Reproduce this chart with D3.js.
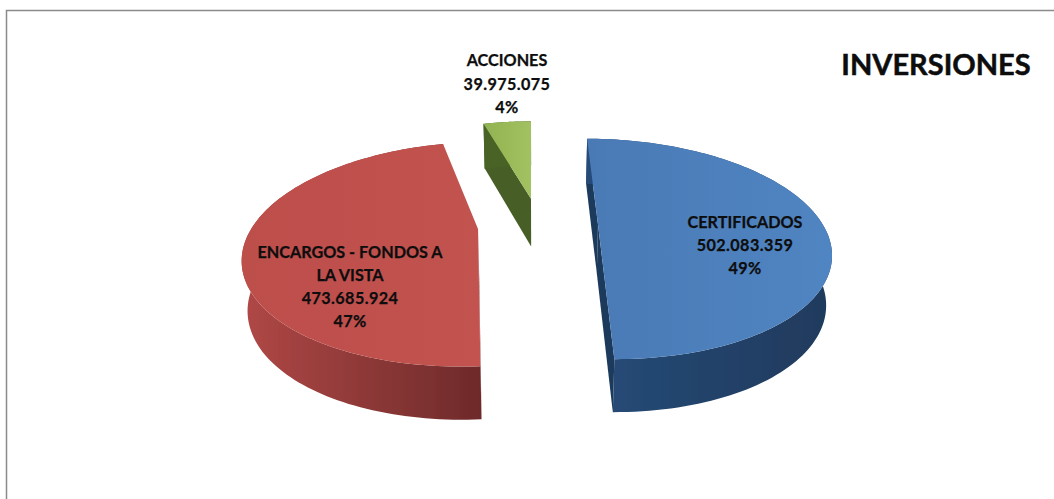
<!DOCTYPE html>
<html>
<head>
<meta charset="utf-8">
<title>INVERSIONES</title>
<script src="https://d3js.org/d3.v7.min.js"></script>
<style>
  html, body { margin: 0; background: #fff; }
  svg { display: block; }
  text { font-family: Lato, "Open Sans", sans-serif; font-weight: 700; fill: #0d0d0d; text-anchor: middle;
         stroke: #0d0d0d; stroke-width: 0.25px; }
  .lbl { font-size: 16.2px; }
  .num { letter-spacing: 0.4px; }
  .title { font-size: 29px; stroke-width: 0.5px; }
</style>
</head>
<body>
<script>
var chartTitle = "INVERSIONES";
var names = ["CERTIFICADOS", "ENCARGOS - FONDOS A LA VISTA", "ACCIONES"];
var values = [502083359, 473685924, 39975075];
var labelLines = [["CERTIFICADOS"], ["ENCARGOS - FONDOS A", "LA VISTA"], ["ACCIONES"]];

var topColors = [["#4a7ab5", "#5085c2"], ["#bd4f4c", "#c2524f"], ["#92b352", "#a2c160"]];
var wallColors = [["#264b78", "#1f3a5c"], ["#b04846", "#6e2a2a"], ["#4a6428", "#465f27"]];
var labelPos = [[745, 228], [350, 258], [507, 66]];
var lineGap = [23, 23, 23.5];

var width = 1054, height = 499;

// camera: world x,y on the pie plane, radius 1; slices converge toward cx
var cx = 538, cy = 225, sx = 225, sy = 105, persp = 0.222, explode = 0.267;
var depth = 48.8, perspDepth = 0.08, lowShrink = 0.98;
// the original's cuts are a little off true, degrees added to [start, end]
var cutNudge = [[0, 2.2], [-1.8, 0], [-1.8, -0.4]];

function project(p, z) {
  var w = 1 - persp * p[1];
  var x = p[0] * sx / w, y = cy + p[1] * sy / w;
  if (z) return [cx + x * lowShrink, y + depth / (1 - perspDepth * p[1])];
  return [cx + x, y];
}

var svg = d3.select("body").append("svg").attr("width", width).attr("height", height);
var defs = svg.append("defs");
defs.append("filter").attr("id", "soft").append("feGaussianBlur").attr("stdDeviation", 0.45);

function gradient(id, colors, x1, x2) {
  var g = defs.append("linearGradient").attr("id", id)
    .attr("gradientUnits", "userSpaceOnUse")
    .attr("x1", x1).attr("x2", x2).attr("y1", 0).attr("y2", 0);
  g.append("stop").attr("offset", "0%").attr("stop-color", colors[0]);
  g.append("stop").attr("offset", "100%").attr("stop-color", colors[1]);
}

// chart frame
svg.append("path").attr("d", "M6.5," + height + "V10.5H" + width)
  .attr("fill", "none").attr("stroke", "#8a8a8a").attr("stroke-width", 1.5);

var pie = d3.pie().sort(null);
var arcs = pie(values);
var line = d3.line();
var plot = svg.append("g").attr("filter", "url(#soft)");
var toRad = Math.PI / 180;

// far slice first
[2, 1, 0].forEach(function(i) {
  var a = arcs[i];
  var mid = (a.startAngle + a.endAngle) / 2;
  var ox = Math.sin(mid) * explode, oy = -Math.cos(mid) * explode;
  var steps = d3.scaleLinear().domain([0, 120])
    .range([a.startAngle + cutNudge[i][0] * toRad, a.endAngle + cutNudge[i][1] * toRad]);
  var rim = d3.range(121).map(function(k) {
    var t = steps(k);
    return [ox + Math.sin(t), oy - Math.cos(t)];
  });
  var apex = [ox, oy];

  var xs = rim.map(function(p) { return project(p)[0]; });
  gradient("wall" + i, wallColors[i], d3.min(xs), d3.max(xs));
  gradient("top" + i, topColors[i], d3.min(xs), d3.max(xs));

  function top(p) { return project(p, false); }
  function low(p) { return project(p, true); }

  // cut faces: blue shows both, the others only the start one
  var cuts = i == 0 ? [rim[0], rim[rim.length - 1]] : [rim[0]];
  cuts.forEach(function(p) {
    plot.append("path")
      .attr("d", line([top(apex), top(p), low(p), low(apex)]) + "Z")
      .attr("fill", wallColors[i][1]);
  });
  // outer wall
  plot.append("path")
    .attr("d", line(rim.map(top).concat(rim.map(low).reverse())) + "Z")
    .attr("fill", "url(#wall" + i + ")");
  // top surface
  plot.append("path")
    .attr("d", line([apex].concat(rim).map(top)) + "Z")
    .attr("fill", "url(#top" + i + ")");
});

var fmtValue = d3.formatLocale({ decimal: ",", thousands: ".", grouping: [3], currency: ["", ""] }).format(",d");
var fmtPct = d3.format(".0%");
var total = d3.sum(values);

names.forEach(function(name, i) {
  var lines = labelLines[i].concat([fmtValue(values[i]), fmtPct(values[i] / total)]);
  svg.append("g").selectAll("text").data(lines).enter().append("text")
    .attr("class", function(d, k) { return k >= labelLines[i].length ? "lbl num" : "lbl"; })
    .attr("x", labelPos[i][0])
    .attr("y", function(d, k) { return labelPos[i][1] + k * lineGap[i]; })
    .text(function(d) { return d; });
});

svg.append("text").attr("class", "title").attr("x", 936).attr("y", 75).text(chartTitle);
</script>
</body>
</html>
